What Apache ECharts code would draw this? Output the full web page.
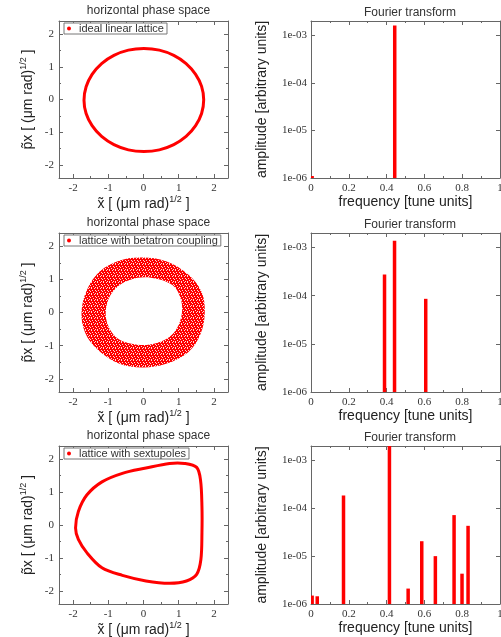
<!DOCTYPE html>
<html>
<head>
<meta charset="utf-8">
<script src="https://cdn.jsdelivr.net/npm/echarts@6/dist/echarts.min.js"></script>
<style>
  html, body { margin: 0; padding: 0; background: #fff; }
  #chart { width: 501px; height: 637px; }
</style>
</head>
<body>
<div id="chart"></div>
<script>
// phase space contours, [x, px] in (um rad)^1/2
const idealLoop = [
  [1.71, -0.01], [1.65, 0.40], [1.48, 0.77], [1.21, 1.10], [0.86, 1.35], [0.45, 1.51],
  [0.01, 1.56], [-0.43, 1.51], [-0.84, 1.35], [-1.19, 1.10], [-1.46, 0.77], [-1.63, 0.39],
  [-1.69, -0.02], [-1.63, -0.43], [-1.46, -0.80], [-1.19, -1.13], [-0.84, -1.38], [-0.43, -1.54],
  [0.01, -1.59], [0.45, -1.54], [0.86, -1.38], [1.21, -1.13], [1.48, -0.80], [1.65, -0.43]
];
const couplingOuter = [
  [-1.76, 0.01], [-1.61, 0.67], [-1.23, 1.25], [-0.65, 1.58], [-0.03, 1.66],
  [0.64, 1.55], [1.27, 1.15], [1.65, 0.62], [1.74, 0.01], [1.62, -0.65],
  [1.27, -1.20], [0.64, -1.55], [-0.03, -1.66], [-0.70, -1.54], [-1.32, -1.10],
  [-1.66, -0.60]
];
const couplingInner = [
  [0.21, 1.05], [0.83, 0.82], [1.07, 0.36], [1.07, -0.14], [0.83, -0.65],
  [0.35, -0.93], [-0.18, -0.97], [-0.75, -0.77], [-1.04, -0.29], [-1.04, 0.26],
  [-0.80, 0.72], [-0.37, 0.99]
];
const sextLoop = [
  [-1.93, -0.09], [-1.85, 0.41], [-1.61, 0.91], [-1.18, 1.31], [-0.60, 1.57],
  [0.07, 1.73], [0.74, 1.87], [1.17, 1.87], [1.51, 1.75], [1.62, 1.36],
  [1.66, 0.56], [1.66, -0.24], [1.63, -1.05], [1.51, -1.50], [1.22, -1.70],
  [0.74, -1.77], [0.07, -1.70], [-0.60, -1.53], [-1.18, -1.30], [-1.61, -0.84],
  [-1.85, -0.44]
];

// spectra, [frequency in tune units, amplitude]
const idealPeaks = [[0.006, 1.1e-6], [0.443, 1.6e-3]];
const couplingPeaks = [[0.389, 2.75e-4], [0.442, 1.38e-3], [0.607, 8.6e-5]];
const sextPeaks = [
  [0.006, 1.5e-6], [0.033, 1.45e-6], [0.172, 1.85e-4], [0.415, 2.0e-3],
  [0.514, 2.1e-6], [0.586, 2.05e-5], [0.658, 1.0e-5], [0.757, 7.2e-5],
  [0.799, 4.3e-6], [0.831, 4.3e-5]
];

const legendNames = ['ideal linear lattice', 'lattice with betatron coupling', 'lattice with sextupoles'];
const phaseRange = [-2.4, 2.4];
const freqRange = [0, 1];
const ampRange = [1e-6, 2e-3];

const RED = '#ff0000';
const FRAME = '#666';
const SANS = 'Liberation Sans';
const SERIF = 'Liberation Serif';

const rowTop = [21, 233, 446];
const rowH = [157, 159, 158];

// red speckled fill for the coupled ring
const speck = document.createElement('canvas');
speck.width = 6; speck.height = 6;
(function () {
  const c = speck.getContext('2d');
  c.fillStyle = RED;
  c.fillRect(0, 0, 6, 6);
  c.fillStyle = 'rgba(255,255,255,0.85)';
  [[1, 0], [4, 0], [2, 2], [5, 2], [0, 3], [3, 4], [1, 5], [5, 5]].forEach(p => c.fillRect(p[0], p[1], 1, 1));
})();

const grids = [], xAxes = [], yAxes = [], titles = [], legends = [], series = [];

function frameAxis(extra) {
  return Object.assign({
    axisLine: { show: true, onZero: false, lineStyle: { color: FRAME, width: 1 } },
    axisTick: { inside: true, length: 4, lineStyle: { color: FRAME } },
    splitLine: { show: false }
  }, extra);
}
const minor = { show: true, splitNumber: 2, length: 2, lineStyle: { color: FRAME } };

const unitName = {
  rich: {
    b: { fontSize: 14, fontFamily: SANS, color: '#222', lineHeight: 18 },
    s: { fontSize: 9, fontFamily: SANS, color: '#222', lineHeight: 10, verticalAlign: 'top' }
  }
};
const plainName = { fontSize: 14, fontFamily: SANS, color: '#222' };
const labelFont = { fontFamily: SERIF, fontSize: 11, color: '#333' };
const titleFont = { fontSize: 12, fontWeight: 'normal', fontFamily: SANS, color: '#333' };

function intLabel(v) {
  return Math.abs(v - Math.round(v)) < 1e-9 ? String(Math.round(v)) : '';
}
function logLabel(v) {
  const e = Math.log10(v);
  if (Math.abs(e - Math.round(e)) > 1e-6) return '';
  const n = -Math.round(e);
  return '1e-' + (n < 10 ? '0' + n : n);
}

for (let r = 0; r < 3; r++) {
  // left: phase space
  const gl = grids.length;
  grids.push({ left: 59, top: rowTop[r], width: 169, height: rowH[r], outerBoundsMode: 'none' });
  xAxes.push(frameAxis({
    type: 'value', gridIndex: gl, position: 'bottom', min: phaseRange[0], max: phaseRange[1],
    minorTick: minor,
    axisLabel: Object.assign({ margin: 5, formatter: intLabel }, labelFont),
    name: '{b|x\u0303 [ (μm rad)}{s|1/2}{b| ]}', nameLocation: 'middle', nameGap: 15,
    nameTextStyle: unitName
  }));
  xAxes.push(frameAxis({
    type: 'value', gridIndex: gl, position: 'top', min: phaseRange[0], max: phaseRange[1],
    minorTick: minor, axisLabel: { show: false }
  }));
  yAxes.push(frameAxis({
    type: 'value', gridIndex: gl, position: 'left', min: phaseRange[0], max: phaseRange[1],
    minorTick: minor,
    axisLabel: Object.assign({ margin: 5, formatter: intLabel }, labelFont),
    name: '{b|p\u0303x [ (μm rad)}{s|1/2}{b| ]}', nameLocation: 'middle', nameGap: 22,
    nameTextStyle: unitName
  }));
  yAxes.push(frameAxis({
    type: 'value', gridIndex: gl, position: 'right', min: phaseRange[0], max: phaseRange[1],
    minorTick: minor, axisLabel: { show: false }
  }));
  titles.push({
    text: 'horizontal phase space', left: 143.5, top: rowTop[r] - 21, textAlign: 'center',
    textStyle: titleFont
  });
  legends.push({
    data: [{ name: legendNames[r], icon: 'circle' }],
    left: 64, top: rowTop[r] + 2, padding: [0, 3, 0, 3], itemWidth: 4, itemHeight: 4,
    borderColor: '#777', borderWidth: 1, borderRadius: 0, backgroundColor: '#fff',
    selectedMode: false,
    textStyle: { fontSize: 11, fontFamily: SANS, color: '#333', padding: [1, 0, 0, 3] }
  });

  const xi = gl * 2, yi = gl * 2;
  if (r === 1) {
    series.push({
      type: 'custom', name: legendNames[r], xAxisIndex: xi, yAxisIndex: yi,
      data: [[0, 0]], color: RED, clip: true,
      renderItem: (params, api) => ({
        type: 'group',
        children: [
          { type: 'polygon', shape: { points: couplingOuter.map(p => api.coord(p)), smooth: 0.35 },
            style: { fill: { image: speck, repeat: 'repeat' }, stroke: null } },
          { type: 'polygon', shape: { points: couplingInner.map(p => api.coord(p)), smooth: 0.35 },
            style: { fill: '#fff', stroke: null } }
        ]
      })
    });
  } else {
    const loop = r === 0 ? idealLoop : sextLoop;
    series.push({
      type: 'custom', name: legendNames[r], xAxisIndex: xi, yAxisIndex: yi,
      data: [[0, 0]], color: RED, clip: true,
      renderItem: (params, api) => ({
        type: 'polygon',
        shape: { points: loop.map(p => api.coord(p)), smooth: 0.33 },
        style: { fill: 'none', stroke: RED, lineWidth: 3 }
      })
    });
  }

  // right: Fourier transform
  const gr = grids.length;
  grids.push({ left: 311, top: rowTop[r], width: 189, height: rowH[r], outerBoundsMode: 'none' });
  xAxes.push(frameAxis({
    type: 'value', gridIndex: gr, position: 'bottom', min: freqRange[0], max: freqRange[1], interval: 0.2,
    minorTick: minor,
    axisLabel: Object.assign({ margin: 5 }, labelFont),
    name: 'frequency [tune units]', nameLocation: 'middle', nameGap: 16,
    nameTextStyle: plainName
  }));
  xAxes.push(frameAxis({
    type: 'value', gridIndex: gr, position: 'top', min: freqRange[0], max: freqRange[1], interval: 0.2,
    minorTick: minor, axisLabel: { show: false }
  }));
  yAxes.push(frameAxis({
    type: 'log', logBase: 10, gridIndex: gr, position: 'left', min: ampRange[0], max: ampRange[1],
    axisLabel: Object.assign({ margin: 4, formatter: logLabel }, labelFont),
    name: 'amplitude [arbitrary units]', nameLocation: 'middle', nameGap: 42,
    nameTextStyle: plainName
  }));
  yAxes.push(frameAxis({
    type: 'log', logBase: 10, gridIndex: gr, position: 'right', min: ampRange[0], max: ampRange[1],
    axisLabel: { show: false }
  }));
  titles.push({
    text: 'Fourier transform', left: 405, top: rowTop[r] - 19, textAlign: 'center',
    textStyle: titleFont
  });

  const peaks = [idealPeaks, couplingPeaks, sextPeaks][r];
  series.push({
    type: 'custom', name: 'spectrum ' + (r + 1), xAxisIndex: gr * 2, yAxisIndex: gr * 2,
    data: peaks, color: RED, clip: true,
    renderItem: (params, api) => {
      const top = api.coord([api.value(0), api.value(1)]);
      const base = api.coord([api.value(0), ampRange[0]]);
      return {
        type: 'rect',
        shape: { x: top[0] - 1.75, y: top[1], width: 3.5, height: base[1] - top[1] },
        style: { fill: RED }
      };
    }
  });
}

const chart = echarts.init(document.getElementById('chart'), null, { renderer: 'canvas' });
chart.setOption({
  animation: false,
  backgroundColor: '#fff',
  title: titles,
  legend: legends,
  grid: grids,
  xAxis: xAxes,
  yAxis: yAxes,
  series: series
});
</script>
</body>
</html>
